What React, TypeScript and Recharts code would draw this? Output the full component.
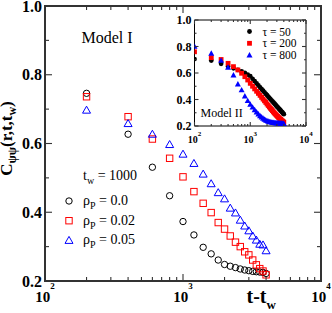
import React from "react";
import { ScatterChart, Scatter, XAxis, YAxis, ReferenceArea } from "recharts";

// ---- main panel (Model I), t_w = 1000 ----
const times = [
  200, 400, 600, 800, 1000, 1200, 1400, 1600, 1800, 2000,
  2200, 2400, 2600, 2800, 3000, 3200, 3400, 3600, 3800, 4000,
];
const rho00 = [
  0.746, 0.627, 0.531, 0.448, 0.373, 0.334, 0.298, 0.279, 0.261, 0.248,
  0.243, 0.239, 0.235, 0.232, 0.23, 0.228, 0.227, 0.226, 0.225, 0.222,
];
const rho002 = [
  0.736, 0.678, 0.613, 0.557, 0.503, 0.46, 0.426, 0.399, 0.37, 0.351,
  0.331, 0.313, 0.3, 0.285, 0.276, 0.261, 0.247, 0.236, 0.229, 0.218,
];
const rho005 = [
  0.697, 0.658, 0.627, 0.597, 0.569, 0.542, 0.511, 0.483, 0.457, 0.439,
  0.412, 0.398, 0.377, 0.36, 0.346, 0.331, 0.319, 0.307, 0.305, 0.288,
];

// ---- inset (Model II) ----
const insetTimes = [
  100, 200, 300, 400, 500, 600, 700, 800, 900, 1000,
  1100, 1200, 1300, 1400, 1500, 1600, 1700, 1800, 1900, 2000,
  2100, 2200, 2300, 2400, 2500, 2600, 2700, 2800, 2900, 3000,
  3100, 3200, 3300, 3400, 3500, 3600, 3700, 3800, 3900, 4000,
];
const tau50 = [
  0.705, 0.694, 0.67, 0.65, 0.636, 0.624, 0.612, 0.6, 0.588, 0.576,
  0.556, 0.538, 0.521, 0.506, 0.492, 0.478, 0.466, 0.454, 0.443, 0.432,
  0.422, 0.412, 0.403, 0.394, 0.386, 0.378, 0.37, 0.363, 0.355, 0.348,
  0.342, 0.335, 0.329, 0.323, 0.317, 0.311, 0.305, 0.3, 0.294, 0.289,
];
const tau200 = [
  0.76, 0.716, 0.702, 0.673, 0.648, 0.623, 0.598, 0.572, 0.547, 0.522,
  0.5, 0.48, 0.462, 0.446, 0.431, 0.416, 0.403, 0.39, 0.378, 0.366,
  0.355, 0.344, 0.334, 0.325, 0.316, 0.307, 0.299, 0.292, 0.285, 0.278,
  0.272, 0.266, 0.26, 0.255, 0.25, 0.245, 0.24, 0.236, 0.232, 0.228,
];
const tau800 = [
  0.802, 0.749, 0.695, 0.643, 0.585, 0.517, 0.472, 0.426, 0.391, 0.364,
  0.342, 0.322, 0.305, 0.29, 0.277, 0.267, 0.258, 0.251, 0.245, 0.24,
  0.236, 0.233, 0.231, 0.229, 0.227, 0.226, 0.225, 0.224, 0.223, 0.223,
  0.222, 0.222, 0.221, 0.221, 0.22, 0.22, 0.22, 0.219, 0.219, 0.218,
];

// ---- ticks ----
const logTicks = [
  100, 200, 300, 400, 500, 600, 700, 800, 900,
  1000, 2000, 3000, 4000, 5000, 6000, 7000, 8000, 9000, 10000,
];
const decades = [100, 1000, 10000];
const yTicks = [0.2, 0.3, 0.4, 0.5, 0.6, 0.7, 0.8, 0.9, 1.0];
const yLabels = [0.2, 0.4, 0.6, 0.8, 1.0];

const mainLegend = ["ρ = 0.0", "ρ = 0.02", "ρ = 0.05"];
const insetLegend = ["τ = 50", "τ = 200", "τ = 800"];

const SERIF = "'Liberation Serif', 'Times New Roman', serif";
const FRAME = "#333";

// plot box sizes (pixels) used to mirror ticks on the opposite side
const MAIN_W = 276;
const MAIN_H = 275;
const INSET_W = 111.5;
const INSET_H = 106;

const pts = (xs: number[], ys: number[]) => xs.map((t, i) => ({ t, c: ys[i] }));

const OpenCircle = (p: any) => (
  <circle cx={p.cx} cy={p.cy} r={3.2} fill="none" stroke="#000" strokeWidth={1} />
);
const OpenSquare = (p: any) => (
  <rect x={p.cx - 3.2} y={p.cy - 3.2} width={6.4} height={6.4} fill="none" stroke="#f00" strokeWidth={1} />
);
const OpenTriangle = (p: any) => (
  <polygon
    points={`${p.cx},${p.cy - 4} ${p.cx - 4},${p.cy + 3} ${p.cx + 4},${p.cy + 3}`}
    fill="none"
    stroke="#00f"
    strokeWidth={1}
  />
);
const DotCircle = (p: any) => <circle cx={p.cx} cy={p.cy} r={2.4} fill="#000" />;
const DotSquare = (p: any) => (
  <rect x={p.cx - 2.4} y={p.cy - 2.4} width={4.8} height={4.8} fill="#f00" />
);
const DotTriangle = (p: any) => (
  <polygon points={`${p.cx},${p.cy - 3} ${p.cx - 3},${p.cy + 2.4} ${p.cx + 3},${p.cy + 2.4}`} fill="#00f" />
);

const makeXTick = (h: number, big: number, small: number, fs: number, sup: number, dy: number, lift: number) =>
  (props: any) => {
    const { x, y, payload } = props;
    const v = payload.value;
    const major = decades.includes(v);
    const len = major ? big : small;
    return (
      <g>
        <line x1={x} x2={x} y1={y} y2={y - len} stroke={FRAME} strokeWidth={1.1} />
        <line x1={x} x2={x} y1={y - h} y2={y - h + len} stroke={FRAME} strokeWidth={1.1} />
        {major && (
          <text x={x} y={y + dy} textAnchor="middle" fontFamily={SERIF} fontWeight="bold" fontSize={fs} fill="#000">
            10
            <tspan dy={-lift} fontSize={sup}>
              {String(Math.round(Math.log10(v)))}
            </tspan>
          </text>
        )}
      </g>
    );
  };

const makeYTick = (w: number, big: number, small: number, fs: number) => (props: any) => {
  const { x, y, payload } = props;
  const v = payload.value;
  const major = yLabels.includes(v);
  const len = major ? big : small;
  return (
    <g>
      <line x1={x} x2={x + len} y1={y} y2={y} stroke={FRAME} strokeWidth={1.1} />
      <line x1={x + w} x2={x + w - len} y1={y} y2={y} stroke={FRAME} strokeWidth={1.1} />
      {major && (
        <text x={x - 3} y={y} dy="0.35em" textAnchor="end" fontFamily={SERIF} fontWeight="bold" fontSize={fs} fill="#000">
          {v.toFixed(1)}
        </text>
      )}
    </g>
  );
};

const MainXTick = makeXTick(MAIN_H, 7, 4, 15, 9, 21, 13);
const MainYTick = makeYTick(MAIN_W, 7, 4, 16);
const InsetXTick = makeXTick(INSET_H, 4, 2, 10, 7, 17, 7);
const InsetYTick = makeYTick(INSET_W, 4, 2, 12);

export default function App() {
  const mainSeries = [
    { data: pts(times, rho00), shape: OpenCircle },
    { data: pts(times, rho002), shape: OpenSquare },
    { data: pts(times, rho005), shape: OpenTriangle },
  ];
  const insetSeries = [
    { data: pts(insetTimes, tau50), shape: DotCircle },
    { data: pts(insetTimes, tau200), shape: DotSquare },
    { data: pts(insetTimes, tau800), shape: DotTriangle },
  ];
  const mainMarks = [OpenCircle, OpenSquare, OpenTriangle];
  const insetMarks = [DotCircle, DotSquare, DotTriangle];

  return (
    <div style={{ position: "absolute", left: 0, top: 0, width: 332, height: 313, background: "#fff" }}>
      <div style={{ position: "absolute", left: 0, top: 0 }}>
        <ScatterChart width={332} height={313} margin={{ top: 6, right: 11, bottom: 0, left: 0 }}>
          <XAxis
            dataKey="t"
            type="number"
            scale="log"
            domain={[100, 10000]}
            allowDataOverflow
            ticks={logTicks}
            interval={0}
            height={32}
            tickSize={0}
            tickMargin={0}
            axisLine={false}
            tickLine={false}
            tick={MainXTick}
          />
          <YAxis
            dataKey="c"
            type="number"
            domain={[0.2, 1.0]}
            allowDataOverflow
            ticks={yTicks}
            interval={0}
            width={45}
            tickSize={0}
            tickMargin={0}
            axisLine={false}
            tickLine={false}
            tick={MainYTick}
          />
          <ReferenceArea x1={100} x2={10000} y1={0.2} y2={1.0} fill="none" stroke={FRAME} strokeWidth={2} />
          {mainSeries.map((s, i) => (
            <Scatter key={i} data={s.data} shape={s.shape} isAnimationActive={false} />
          ))}
        </ScatterChart>
      </div>

      <div style={{ position: "absolute", left: 150, top: 0 }}>
        <ScatterChart width={170} height={150} margin={{ top: 20, right: 14, bottom: 0, left: 0 }}>
          <XAxis
            dataKey="t"
            type="number"
            scale="log"
            domain={[100, 10000]}
            allowDataOverflow
            ticks={logTicks}
            interval={0}
            height={24}
            tickSize={0}
            tickMargin={0}
            axisLine={false}
            tickLine={false}
            tick={InsetXTick}
          />
          <YAxis
            dataKey="c"
            type="number"
            domain={[0.2, 1.0]}
            allowDataOverflow
            ticks={yTicks}
            interval={0}
            width={44.5}
            tickSize={0}
            tickMargin={0}
            axisLine={false}
            tickLine={false}
            tick={InsetYTick}
          />
          <ReferenceArea x1={100} x2={10000} y1={0.2} y2={1.0} fill="#fff" fillOpacity={1} stroke="#000" strokeWidth={1} />
          {insetSeries.map((s, i) => (
            <Scatter key={i} data={s.data} shape={s.shape} isAnimationActive={false} />
          ))}
        </ScatterChart>
      </div>

      {/* titles, annotations and legends */}
      <svg
        width={332}
        height={313}
        style={{ position: "absolute", left: 0, top: 0, pointerEvents: "none" }}
        fontFamily={SERIF}
      >
        <text transform="rotate(-90, 12, 138.5)" x={12} y={138.5} textAnchor="middle" fontWeight="bold" fontSize={17}>
          C<tspan dy={4} fontSize={12}>ψψ</tspan>
          <tspan dy={-4}>(r,t,t</tspan>
          <tspan dy={4} fontSize={12}>w</tspan>
          <tspan dy={-4}>)</tspan>
        </text>
        <text x={246.5} y={303} fontWeight="bold" fontSize={20}>
          t-t<tspan dy={6} fontSize={13}>w</tspan>
        </text>

        <text x={81.5} y={43} fontSize={16}>Model I</text>
        <text x={83} y={180} fontSize={14}>
          t<tspan dy={4} fontSize={10}>w</tspan>
          <tspan dy={-4}> = 1000</tspan>
        </text>
        {mainLegend.map((label, i) => {
          const base = 205 + i * 19.7;
          const Mark = mainMarks[i];
          const [sym, rest] = [label.slice(0, 1), label.slice(1)];
          return (
            <g key={label}>
              <Mark cx={69} cy={base - 4} />
              <text x={83} y={base} fontSize={14}>
                {sym}
                <tspan dy={4} fontSize={10}>P</tspan>
                <tspan dy={-4}>{rest}</tspan>
              </text>
            </g>
          );
        })}

        {insetLegend.map((label, i) => {
          const base = 35.5 + i * 11.8;
          const Mark = insetMarks[i];
          return (
            <g key={label}>
              <Mark cx={249.5} cy={base - 4} />
              <text x={262.5} y={base} fontSize={11.5}>{label}</text>
            </g>
          );
        })}
        <text x={200.5} y={116.5} fontSize={12}>Model II</text>
      </svg>
    </div>
  );
}
